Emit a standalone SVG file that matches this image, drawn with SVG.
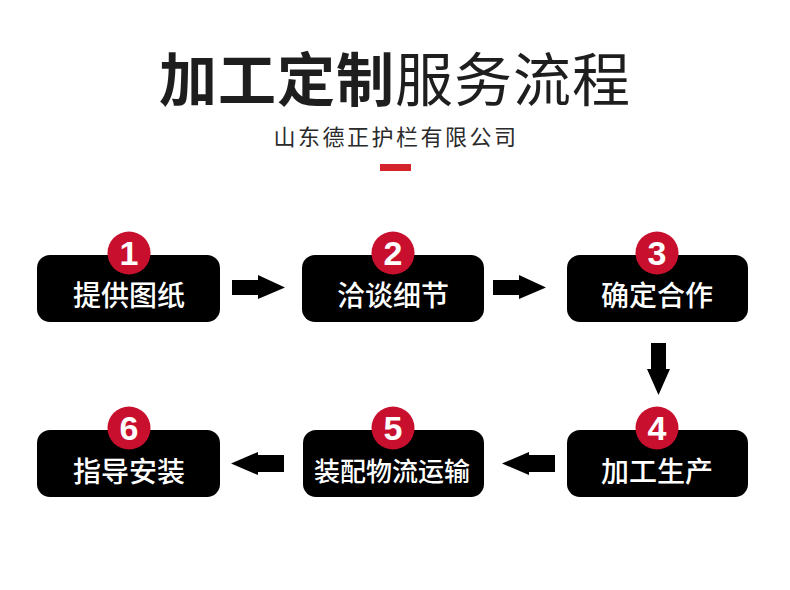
<svg xmlns="http://www.w3.org/2000/svg" width="790" height="590" viewBox="0 0 790 590">
<style>
.box{fill:#000}
.circ{fill:#c8102e}
.num{font-family:"Liberation Sans","Noto Sans",sans-serif;font-weight:700;font-size:34px;fill:#fff;text-anchor:middle}
.lbl{font-family:"Noto Sans CJK SC",sans-serif;font-weight:500;font-size:28px;fill:#fff;text-anchor:middle}
.arr{fill:#000}
</style>
<rect width="790" height="590" fill="#fff"/>
<g id="title">
<text x="395" y="101" text-anchor="middle" font-family="Noto Sans CJK SC, sans-serif" font-size="58" fill="#1e1e1e" letter-spacing="1"><tspan font-weight="700">加工定制</tspan><tspan font-weight="400">服务流程</tspan></text>
<text x="396" y="145" text-anchor="middle" font-family="Noto Sans CJK SC, sans-serif" font-size="22" fill="#2a2a2a" letter-spacing="2.5">山东德正护栏有限公司</text>
<rect x="380" y="164" width="31" height="7" fill="#d4232a"/>
</g>
<g id="connectors">
<path class="arr" d="M232,280 H258 V275 L285,287.5 L258,299 V295 H232 Z"/>
<path class="arr" d="M493,280 H519 V275 L546,287.5 L519,299 V295 H493 Z"/>
<path class="arr" d="M651,343 V369 H647 L658.5,395 L670,369 H666 V343 Z"/>
<path class="arr" d="M555,455 H529 V452 L502,463.5 L529,475 V472 H555 Z"/>
<path class="arr" d="M284,455 H258 V452 L231,463.5 L258,475 V472 H284 Z"/>
</g>
<g id="node1">
<rect class="box" x="37" y="255" width="183" height="67" rx="13"/>
<circle class="circ" cx="129" cy="253" r="21.5"/>
<text class="num" x="129" y="265">1</text>
<text class="lbl" x="129" y="306">提供图纸</text>
</g>
<g id="node2">
<rect class="box" x="302" y="255" width="182" height="67" rx="13"/>
<circle class="circ" cx="393" cy="253" r="21.5"/>
<text class="num" x="393" y="265">2</text>
<text class="lbl" x="393" y="306">洽谈细节</text>
</g>
<g id="node3">
<rect class="box" x="567" y="255" width="181" height="67" rx="13"/>
<circle class="circ" cx="657" cy="253" r="21.5"/>
<text class="num" x="657" y="265">3</text>
<text class="lbl" x="657" y="306">确定合作</text>
</g>
<g id="node4">
<rect class="box" x="567" y="430" width="181" height="67" rx="13"/>
<circle class="circ" cx="657" cy="428" r="21.5"/>
<text class="num" x="657" y="440">4</text>
<text class="lbl" x="657" y="482">加工生产</text>
</g>
<g id="node5">
<rect class="box" x="303" y="430" width="181" height="67" rx="13"/>
<circle class="circ" cx="393" cy="428" r="21.5"/>
<text class="num" x="393" y="440">5</text>
<text class="lbl" x="392" y="481" style="font-size:26px">装配物流运输</text>
</g>
<g id="node6">
<rect class="box" x="37" y="430" width="183" height="67" rx="13"/>
<circle class="circ" cx="129" cy="428" r="21.5"/>
<text class="num" x="129" y="440">6</text>
<text class="lbl" x="129" y="482">指导安装</text>
</g>
</svg>
